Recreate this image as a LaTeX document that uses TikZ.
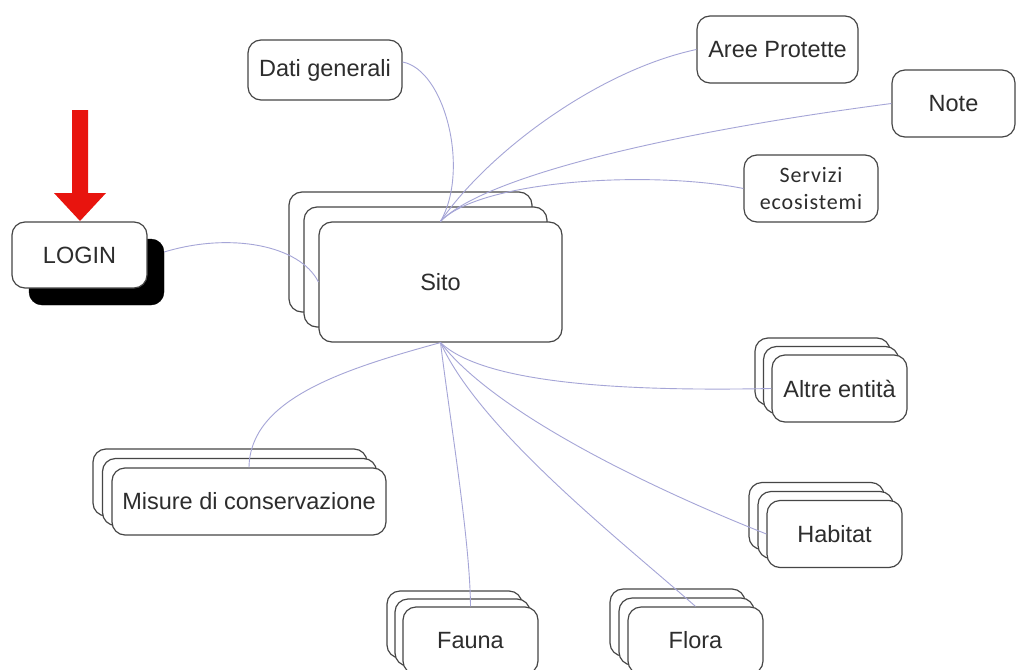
\documentclass[tikz,border=0pt]{standalone}
\usepackage{fontspec}
\setmainfont{Liberation Sans}
\newfontfamily\calib[LetterSpace=4]{Carlito}
\definecolor{boxc}{RGB}{70,70,70}
\definecolor{txtc}{RGB}{45,45,45}
\definecolor{linkc}{RGB}{165,165,215}
\definecolor{arrred}{RGB}{232,20,14}
\begin{document}
\begin{tikzpicture}[x=1pt,y=-1pt,
  box/.style={draw=boxc, line width=1.2pt, rounded corners=13pt, fill=white, inner sep=0pt,
    font=\fontsize{23.5}{28}\selectfont, text=txtc, align=center},
  shadowbox/.style={fill=black, draw=black, rounded corners=13pt, inner sep=0pt},
  conn/.style={draw=linkc, line width=0.9pt},
  w135/.style={minimum width=135pt, minimum height=67pt}]
\useasboundingbox (0,0) rectangle (1016,669);
\fill[white] (0,0) rectangle (1016,669);

% single boxes
\node[box, minimum width=154pt, minimum height=60pt] (dati) at (325,70) {Dati generali};
\node[box, minimum width=161pt, minimum height=67pt] (aree) at (777.5,49.5) {Aree Protette};
\node[box, minimum width=123pt, minimum height=67pt] (note) at (953.5,103.5) {Note};
\node[box, minimum width=134pt, minimum height=67pt, font=\calib\fontsize{22}{27}\selectfont] (servizi) at (811,188.5) {Servizi\\ecosistemi};

% LOGIN with shadow
\node[shadowbox, minimum width=135pt, minimum height=66pt] (loginsh) at (96.5,272) {};
\node[box, minimum width=135pt, minimum height=66pt] (login) at (79.5,255) {LOGIN};

% red arrow
\fill[arrred] (72,110) -- (88,110) -- (88,193) -- (106,193) -- (80,221) -- (54,193) -- (72,193) -- cycle;

% Sito stack
\node[box, minimum width=243pt, minimum height=120pt] (sitob) at (410.5,252) {};
\node[box, minimum width=243pt, minimum height=120pt] (sitom) at (425.5,267) {};
\node[box, minimum width=243pt, minimum height=120pt] (sito) at (440.5,282) {Sito};

% Altre entita stack
\node[box, w135] (altreb) at (822.5,371.5) {};
\node[box, w135] (altrem) at (831,380) {};
\node[box, w135] (altre) at (839.5,388.5) {Altre entità};

% Habitat stack
\node[box, w135] (habitatb) at (816.5,516) {};
\node[box, w135] (habitatm) at (825.5,525) {};
\node[box, w135] (habitat) at (834.5,534) {Habitat};

% Misure stack
\node[box, minimum width=274pt, minimum height=67pt] (misureb) at (230,482.5) {};
\node[box, minimum width=274pt, minimum height=67pt] (misurem) at (239.5,492) {};
\node[box, minimum width=274pt, minimum height=67pt] (misure) at (249,501.5) {Misure di conservazione};

% Fauna stack
\node[box, w135] (faunab) at (454.5,624.5) {};
\node[box, w135] (faunam) at (462.5,632.5) {};
\node[box, w135] (fauna) at (470.5,640.5) {Fauna};

% Flora stack
\node[box, w135] (florab) at (677.5,622.5) {};
\node[box, w135] (floram) at (686.5,631.5) {};
\node[box, w135] (flora) at (695.5,640.5) {Flora};

% connectors
\draw[conn] ([yshift=8pt]dati.east) .. controls (445,70) and (470,170) .. (sito.north);
\draw[conn] (sito.north) .. controls (490,150) and (600,70) .. (aree.west);
\draw[conn] (sito.north) .. controls (480,180) and (650,135) .. (note.west);
\draw[conn] (sito.north) .. controls (480,180) and (650,170) .. (servizi.west);
\draw[conn] ([yshift=20pt]loginsh.east) .. controls (230,232) and (300,245) .. (sito.west);
\draw[conn] (sito.south) .. controls (480,380) and (600,392) .. (altre.west);
\draw[conn] (sito.south) .. controls (500,420) and (680,500) .. (habitat.west);
\draw[conn] (sito.south) .. controls (480,430) and (620,540) .. (flora.north);
\draw[conn] (sito.south) .. controls (450,420) and (470,540) .. (fauna.north);
\draw[conn] (sito.south) .. controls (340,370) and (250,400) .. (misure.north);
\end{tikzpicture}
\end{document}
